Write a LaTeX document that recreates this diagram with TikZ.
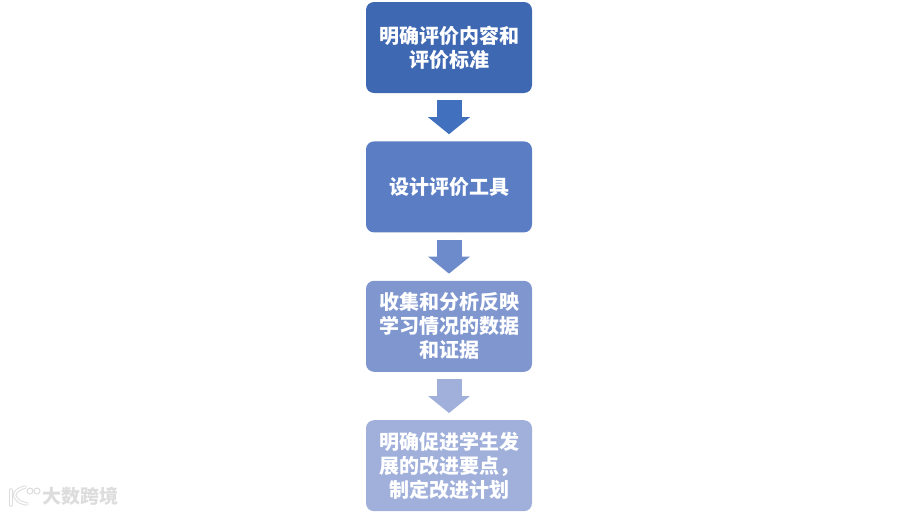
\documentclass[tikz,border=0pt]{standalone}
\usepackage{fontspec}
\setmainfont{Noto Sans CJK SC}
\usetikzlibrary{positioning}
\usetikzlibrary{arrows.meta}
\definecolor{stepA}{HTML}{3F68B2}
\definecolor{stepB}{HTML}{5A7DC4}
\definecolor{stepC}{HTML}{7F96CF}
\definecolor{stepD}{HTML}{A0B0DB}
\definecolor{arrowA}{HTML}{4170BF}
\definecolor{arrowB}{HTML}{6D8ACB}
\definecolor{arrowC}{HTML}{A0B0DB}
\definecolor{markgray}{HTML}{DDDDDD}
\tikzset{
  stepbox/.style={rounded corners=8pt,minimum width=166pt,minimum height=91pt,inner sep=0pt,
    align=center,text=white,font=\fontsize{20pt}{24pt}\selectfont\bfseries},
  blockarrow/.style={line width=25pt,shorten <=7pt,shorten >=7pt,-{Triangle[length=17pt,width=41pt]}},
  logoline/.style={markgray,line width=1pt,double=white,double distance=1.6pt,line cap=round}
}
\begin{document}
\begin{tikzpicture}
\useasboundingbox (0,0) rectangle (898pt,-514pt);
\node[stepbox,fill=stepA] (content) at (449pt,-47.5pt) {明确评价内容和\\评价标准};
\node[stepbox,fill=stepB,below=48pt of content] (tool) {设计评价工具};
\node[stepbox,fill=stepC,below=48pt of tool] (data) {收集和分析反映\\学习情况的数据\\和证据};
\node[stepbox,fill=stepD,below=48pt of data] (plan) {明确促进学生发\\展的改进要点，\\制定改进计划};
\draw[blockarrow,arrowA] (content) -- (tool);
\draw[blockarrow,arrowB] (tool) -- (data);
\draw[blockarrow,arrowC] (data) -- (plan);
% watermark
\node[text=markgray,font=\fontsize{19pt}{20pt}\selectfont\bfseries,inner sep=0pt] (markname) at (80.5pt,-496.5pt) {大数跨境};
\draw[logoline] (11pt,-490pt) -- (11pt,-505pt);
\draw[logoline] (25pt,-487pt) .. controls (14pt,-490pt) and (13pt,-496pt) .. (16pt,-498pt) .. controls (19pt,-502pt) .. (27pt,-504pt);
\draw[markgray,line width=1pt] (30pt,-491pt) circle (3pt);
\draw[markgray,line width=1pt] (37pt,-491pt) circle (3pt);
\end{tikzpicture}
\end{document}
